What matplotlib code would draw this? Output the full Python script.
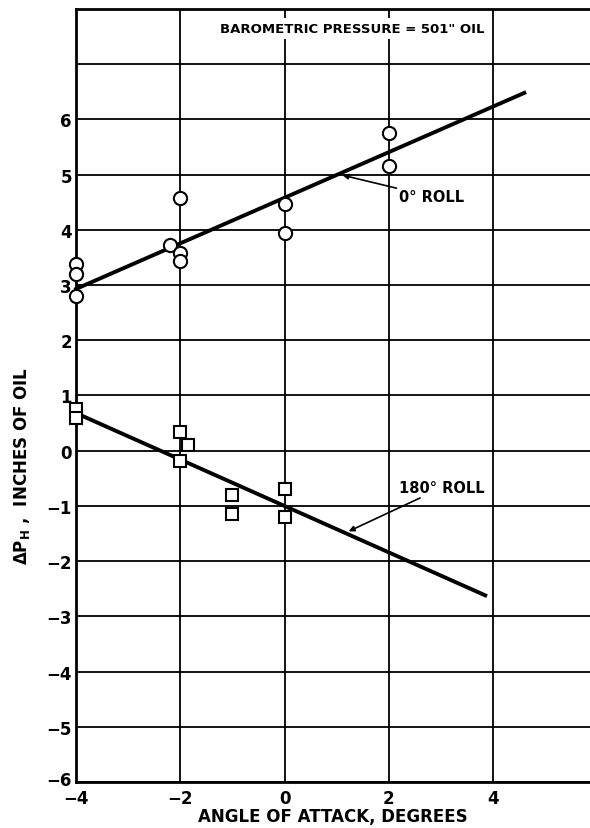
import matplotlib
matplotlib.use('Agg')
import matplotlib.pyplot as plt
import matplotlib.transforms as mtransforms
import numpy as np

# 0 deg roll (circles)
roll0_x = [-4, -4, -4, -2.2, -2, -2, -2, 0, 0, 2, 2]
roll0_y = [3.38, 3.2, 2.8, 3.73, 4.58, 3.58, 3.44, 4.47, 3.95, 5.75, 5.15]
roll0_line_x = [-4, 4.6]
roll0_line_y = [2.93, 6.48]

# 180 deg roll (squares)
roll180_x = [-4, -4, -2, -1.85, -2, -1, -1, 0, 0]
roll180_y = [0.75, 0.6, 0.33, 0.1, -0.18, -0.8, -1.15, -0.7, -1.2]
roll180_line_x = [-4, 3.85]
roll180_line_y = [0.68, -2.62]

x_ticks = [-4, -2, 0, 2, 4]
y_ticks = list(range(-6, 8))

plt.rcParams['font.family'] = ['DejaVu Sans']
plt.rcParams['font.weight'] = 'bold'
plt.rcParams['mathtext.fontset'] = 'custom'
plt.rcParams['mathtext.rm'] = 'DejaVu Sans:bold'
plt.rcParams['mathtext.it'] = 'DejaVu Sans:bold'

fig = plt.figure(figsize=(5.9, 8.29), dpi=100)
ax = fig.add_axes([0.129, 0.0555, 0.871, 0.9325])

ax.set_xlim(-4, 5.86)
ax.set_ylim(-6, 8)

# grid
ax.set_xticks(x_ticks)
ax.set_yticks(y_ticks)
ax.set_yticklabels([str(v).replace('-', '\u2212') if v < 7 else '' for v in y_ticks])
ax.grid(True, color='black', linewidth=1.3)
ax.tick_params(length=0, labelsize=12, pad=3)
ax.tick_params(axis='x', pad=5)
for lab in ax.get_xticklabels() + ax.get_yticklabels():
    lab.set_fontweight('bold')

# lift the -6 label a bit, like the reference
low = ax.get_yticklabels()[0]
low.set_transform(low.get_transform() +
                  mtransforms.ScaledTranslation(0, 3 / 72, fig.dpi_scale_trans))

for side in ['left', 'bottom', 'top']:
    ax.spines[side].set_linewidth(2)
ax.spines['right'].set_visible(False)

# fit lines
ax.plot(roll0_line_x, roll0_line_y, color='black', lw=2.8, zorder=3, clip_on=False)
ax.plot(roll180_line_x, roll180_line_y, color='black', lw=2.8, zorder=3, clip_on=False)

# data points
ax.plot(roll0_x, roll0_y, 'o', ms=9.5, mfc='white', mec='black', mew=1.5,
        zorder=4, clip_on=False)
ax.plot(roll180_x, roll180_y, 's', ms=8.5, mfc='white', mec='black', mew=1.5,
        zorder=4, clip_on=False)

# annotations
ax.annotate('0° ROLL', xy=(1.11, 4.99), xytext=(2.2, 4.6),
            fontsize=10.5, fontweight='bold', va='center', ha='left',
            arrowprops=dict(arrowstyle='-|>', color='black', lw=1.2,
                            mutation_scale=8, shrinkA=0, shrinkB=0),
            zorder=5)
ax.annotate('180° ROLL', xy=(1.23, -1.46), xytext=(2.2, -0.67),
            fontsize=10.5, fontweight='bold', va='center', ha='left',
            arrowprops=dict(arrowstyle='-|>', color='black', lw=1.2,
                            mutation_scale=8, shrinkA=0, shrinkB=0),
            zorder=5)

ax.text(1.29, 7.65, 'BAROMETRIC PRESSURE = 501" OIL', fontsize=9.5,
        fontweight='bold', ha='center', va='center', zorder=5,
        bbox=dict(facecolor='white', edgecolor='none', pad=3))

ax.set_xlabel('ANGLE OF ATTACK, DEGREES', fontsize=12, fontweight='bold', labelpad=0)
ax.set_ylabel(r'$\Delta P_H$ ,  INCHES OF OIL', fontsize=12, fontweight='bold')
ax.yaxis.set_label_coords(-0.085, 0.41)

fig.savefig('out.png', dpi=100)
